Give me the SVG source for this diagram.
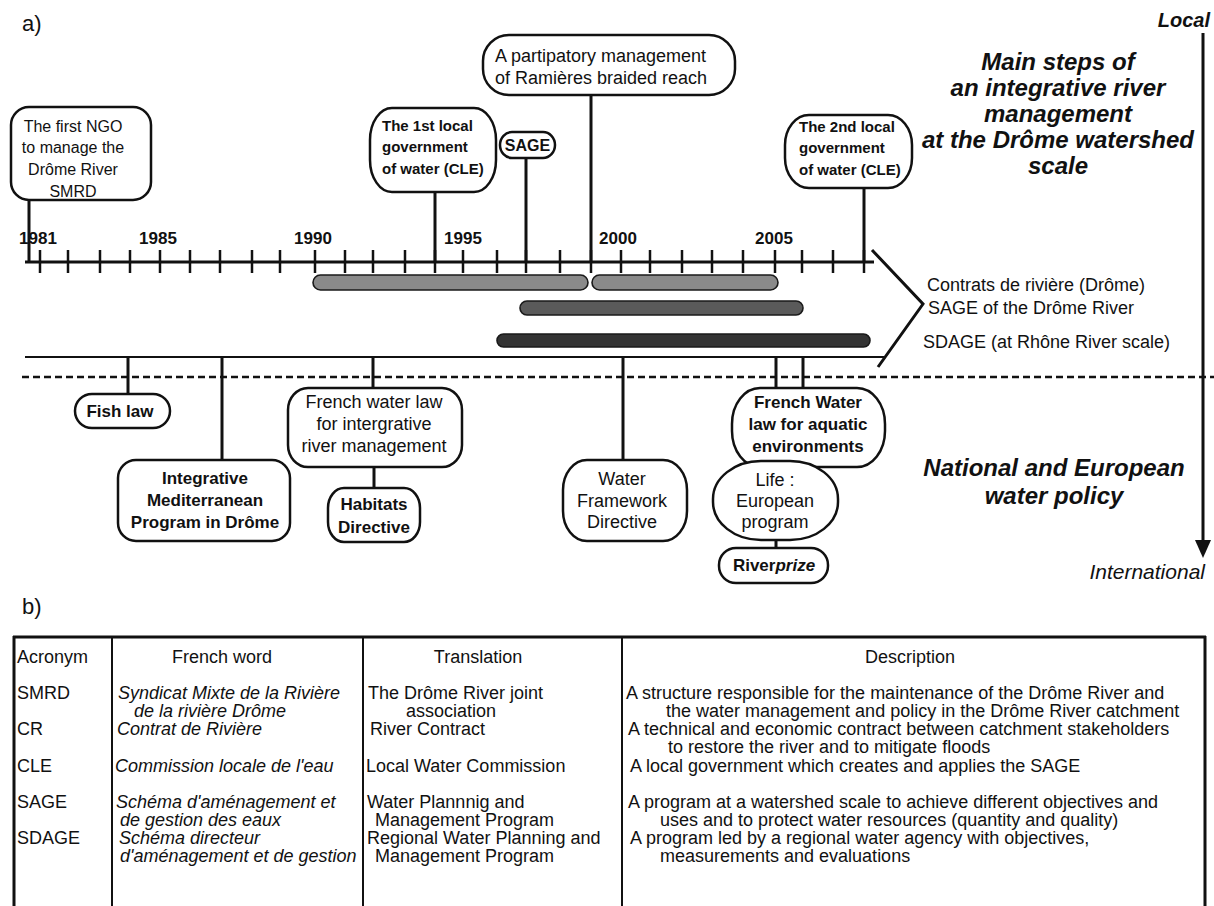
<svg xmlns="http://www.w3.org/2000/svg" width="1214" height="906" viewBox="0 0 1214 906">
<style>
text{font-family:"Liberation Sans",Arial,sans-serif;fill:#111}
.n{font-size:18px}
.n16{font-size:16px}
.b15{font-size:15px;font-weight:bold}
.b17{font-size:17px;font-weight:bold}
.yr{font-size:17px;font-weight:bold;text-anchor:middle}
.c{text-anchor:middle}
.bi{font-size:24px;font-weight:bold;font-style:italic;text-anchor:middle}
.tb{font-size:18px}
.it{font-style:italic}
.box{fill:#fff;stroke:#111;stroke-width:2.5}
.ln{stroke:#111;stroke-width:3;fill:none}
.tk{stroke:#111;stroke-width:2.5}
.bar{stroke:#1a1a1a;stroke-width:1.6}
.tl{stroke:#111;stroke-width:2}
</style>
<rect width="1214" height="906" fill="#fff"/>
<text x="22" y="31" style="font-size:22px">a)</text>
<text x="22" y="614" style="font-size:22px">b)</text>

<g id="connectors">
<line class="ln" x1="25" y1="262" x2="874" y2="262"/>
<g class="tk">
<line x1="40" y1="250" x2="40" y2="273"/><line x1="68" y1="250" x2="68" y2="273"/><line x1="100" y1="250" x2="100" y2="273"/><line x1="130" y1="250" x2="130" y2="273"/><line x1="160" y1="250" x2="160" y2="273"/><line x1="190" y1="250" x2="190" y2="273"/><line x1="220" y1="250" x2="220" y2="273"/><line x1="252" y1="250" x2="252" y2="273"/><line x1="280" y1="250" x2="280" y2="273"/><line x1="315" y1="250" x2="315" y2="273"/><line x1="345" y1="250" x2="345" y2="273"/><line x1="373" y1="250" x2="373" y2="273"/><line x1="405" y1="250" x2="405" y2="273"/><line x1="435" y1="250" x2="435" y2="273"/><line x1="463" y1="250" x2="463" y2="273"/><line x1="497" y1="250" x2="497" y2="273"/><line x1="526" y1="250" x2="526" y2="273"/><line x1="560" y1="250" x2="560" y2="273"/><line x1="591" y1="250" x2="591" y2="273"/><line x1="621" y1="250" x2="621" y2="273"/><line x1="650" y1="250" x2="650" y2="273"/><line x1="682" y1="250" x2="682" y2="273"/><line x1="712" y1="250" x2="712" y2="273"/><line x1="743" y1="250" x2="743" y2="273"/><line x1="775" y1="250" x2="775" y2="273"/><line x1="802" y1="250" x2="802" y2="273"/><line x1="833" y1="250" x2="833" y2="273"/><line x1="864" y1="250" x2="864" y2="273"/>
</g>
<polyline class="ln" stroke-width="2.5" points="872,250 923,304 878,367"/>
<line class="tl" x1="25" y1="357" x2="885" y2="357"/>
<line stroke="#111" stroke-width="2.5" stroke-dasharray="7,4" x1="22" y1="377" x2="1214" y2="377"/>
<line class="ln" x1="1203" y1="33" x2="1203" y2="545"/>
<polygon points="1195,540 1211,540 1203,558" fill="#111"/>
<line class="ln" x1="29" y1="200" x2="29" y2="262"/>
<line class="ln" x1="435" y1="192" x2="435" y2="262"/>
<line class="ln" x1="526" y1="158" x2="526" y2="262"/>
<line class="ln" x1="591" y1="95" x2="591" y2="262"/>
<line class="ln" x1="864" y1="188" x2="864" y2="262"/>
<line class="ln" x1="128" y1="357" x2="128" y2="394"/>
<line class="ln" x1="222" y1="357" x2="222" y2="460"/>
<line class="ln" x1="373" y1="357" x2="373" y2="388"/>
<line class="ln" x1="374" y1="467" x2="374" y2="488"/>
<line class="ln" x1="623" y1="357" x2="623" y2="460"/>
<line class="ln" x1="776" y1="357" x2="776" y2="388"/>
<line class="ln" x1="803" y1="357" x2="803" y2="388"/>
<line class="ln" x1="776" y1="538" x2="776" y2="549"/>
</g>

<g id="years">
<text class="yr" x="38" y="244">1981</text>
<text class="yr" x="158" y="244">1985</text>
<text class="yr" x="313" y="244">1990</text>
<text class="yr" x="463" y="244">1995</text>
<text class="yr" x="618" y="244">2000</text>
<text class="yr" x="774" y="244">2005</text>
</g>

<g id="bars">
<rect class="bar" x="313" y="275" width="275" height="15" rx="7.5" fill="#8a8a8a"/>
<rect class="bar" x="592" y="275" width="186" height="15" rx="7.5" fill="#8a8a8a"/>
<rect class="bar" x="520" y="301" width="283" height="14" rx="7" fill="#5a5a5a"/>
<rect class="bar" x="497" y="334" width="373" height="13" rx="6.5" fill="#333"/>
</g>

<g id="legend">
<text class="n" x="927" y="291">Contrats de rivière (Drôme)</text>
<text class="n" x="928" y="314">SAGE of the Drôme River</text>
<text class="n" x="923" y="348">SDAGE (at Rhône River scale)</text>
</g>

<g id="titles">
<text x="1210" y="27" style="font-size:20px;font-style:italic;font-weight:bold;text-anchor:end">Local</text>
<text class="bi" x="1058" y="70">Main steps of</text>
<text class="bi" x="1058" y="96">an integrative river</text>
<text class="bi" x="1058" y="122">management</text>
<text class="bi" x="1058" y="148">at the Drôme watershed</text>
<text class="bi" x="1058" y="174">scale</text>
<text class="bi" x="1054" y="476">National and European</text>
<text class="bi" x="1054" y="504">water policy</text>
<text x="1205" y="579" style="font-size:21px;font-style:italic;text-anchor:end">International</text>
</g>

<g id="n-smrd">
<rect class="box" x="11" y="107" width="140" height="93" rx="18" ry="18"/>
<text class="n16 c" x="73" y="132">The first NGO</text>
<text class="n16 c" x="73" y="153">to manage the</text>
<text class="n16 c" x="73" y="175">Drôme River</text>
<text class="n16 c" x="73" y="197">SMRD</text>
</g>
<g id="n-cle1">
<rect class="box" x="370" y="108" width="126" height="84" rx="22" ry="32"/>
<text class="b15" x="382" y="131">The 1st local</text>
<text class="b15" x="382" y="152">government</text>
<text class="b15" x="382" y="174">of water (CLE)</text>
</g>
<g id="n-sage">
<rect class="box" x="500" y="132" width="55" height="26" rx="12" ry="13"/>
<text class="c" x="527.5" y="151" style="font-size:16px;font-weight:bold">SAGE</text>
</g>
<g id="n-ramieres">
<rect class="box" x="483" y="35" width="252" height="60" rx="26" ry="26"/>
<text class="n" x="495" y="62">A partipatory management</text>
<text class="n" x="495" y="84">of Ramières braided reach</text>
</g>
<g id="n-cle2">
<rect class="box" x="785" y="115" width="127" height="73" rx="24" ry="30"/>
<text class="b15" x="799" y="132">The 2nd local</text>
<text class="b15" x="799" y="153">government</text>
<text class="b15" x="799" y="175">of water (CLE)</text>
</g>

<g id="n-fish">
<rect class="box" x="75" y="394" width="95" height="34" rx="17"/>
<text class="b17 c" x="120" y="417">Fish law</text>
</g>
<g id="n-integrative">
<rect class="box" x="118" y="460" width="172" height="81" rx="18" ry="18"/>
<text class="b17 c" x="205" y="484">Integrative</text>
<text class="b17 c" x="205" y="506">Mediterranean</text>
<text class="b17 c" x="205" y="528">Program in Drôme</text>
</g>
<g id="n-frenchlaw">
<rect class="box" x="288" y="388" width="174" height="79" rx="20" ry="22"/>
<text class="n c" x="374" y="408">French water law</text>
<text class="n c" x="374" y="430">for intergrative</text>
<text class="n c" x="374" y="452">river management</text>
</g>
<g id="n-habitats">
<rect class="box" x="328" y="488" width="92" height="54" rx="16" ry="20"/>
<text class="b17 c" x="374" y="510">Habitats</text>
<text class="b17 c" x="374" y="533">Directive</text>
</g>
<g id="n-wfd">
<rect class="box" x="563" y="460" width="124" height="81" rx="24" ry="30"/>
<text class="n c" x="622" y="485">Water</text>
<text class="n c" x="622" y="507">Framework</text>
<text class="n c" x="622" y="528">Directive</text>
</g>
<g id="n-aquatic">
<rect class="box" x="732" y="388" width="153" height="79" rx="28" ry="36"/>
<text class="b17 c" x="808" y="408">French Water</text>
<text class="b17 c" x="808" y="430">law for aquatic</text>
<text class="b17 c" x="808" y="452">environments</text>
</g>
<g id="n-life">
<rect class="box" x="713" y="461" width="125" height="79" rx="48" ry="38"/>
<text class="n c" x="775" y="486">Life :</text>
<text class="n c" x="775" y="507">European</text>
<text class="n c" x="775" y="528">program</text>
</g>
<g id="n-riverprize">
<rect class="box" x="719" y="548" width="109" height="35" rx="17"/>
<text class="b17 c" x="774" y="571">River<tspan font-style="italic">prize</tspan></text>
</g>

<g id="table">
<line stroke="#111" stroke-width="3" x1="13" y1="637" x2="1206" y2="637"/>
<line stroke="#111" stroke-width="3" x1="14" y1="636" x2="14" y2="906"/>
<line stroke="#111" stroke-width="3" x1="1205" y1="636" x2="1205" y2="906"/>
<line stroke="#111" stroke-width="2" x1="112" y1="637" x2="112" y2="906"/>
<line stroke="#111" stroke-width="2" x1="363" y1="637" x2="363" y2="906"/>
<line stroke="#111" stroke-width="2" x1="622" y1="637" x2="622" y2="906"/>
<g class="tb">
<text class="tb" x="17" y="663">Acronym</text>
<text class="tb c" x="222" y="663">French word</text>
<text class="tb c" x="478" y="663">Translation</text>
<text class="tb c" x="910" y="663">Description</text>

<text class="tb" x="17" y="699">SMRD</text>
<text class="tb it" x="118" y="699">Syndicat Mixte de la Rivière</text>
<text class="tb it" x="134" y="717">de la rivière Drôme</text>
<text class="tb" x="368" y="699">The Drôme River joint</text>
<text class="tb" x="406" y="717">association</text>
<text class="tb" x="626" y="699">A structure responsible for the maintenance of the Drôme River and</text>
<text class="tb" x="666" y="717">the water management and policy in the Drôme River catchment</text>

<text class="tb" x="17" y="735">CR</text>
<text class="tb it" x="117" y="735">Contrat de Rivière</text>
<text class="tb" x="370" y="735">River Contract</text>
<text class="tb" x="628" y="735">A technical and economic contract between catchment stakeholders</text>
<text class="tb" x="668" y="753">to restore the river and to mitigate floods</text>

<text class="tb" x="17" y="772">CLE</text>
<text class="tb it" x="115" y="772">Commission locale de l'eau</text>
<text class="tb" x="366" y="772">Local Water Commission</text>
<text class="tb" x="630" y="772">A local government which creates and applies the SAGE</text>

<text class="tb" x="17" y="808">SAGE</text>
<text class="tb it" x="116" y="808">Schéma d'aménagement et</text>
<text class="tb it" x="120" y="826">de gestion des eaux</text>
<text class="tb" x="367" y="808">Water Plannnig and</text>
<text class="tb" x="375" y="826">Management Program</text>
<text class="tb" x="628" y="808">A program at a watershed scale to achieve different objectives and</text>
<text class="tb" x="660" y="826">uses and to protect water resources (quantity and quality)</text>

<text class="tb" x="17" y="844">SDAGE</text>
<text class="tb it" x="119" y="844">Schéma directeur</text>
<text class="tb it" x="120" y="862">d'aménagement et de gestion</text>
<text class="tb" x="367" y="844">Regional Water Planning and</text>
<text class="tb" x="375" y="862">Management Program</text>
<text class="tb" x="630" y="844">A program led by a regional water agency with objectives,</text>
<text class="tb" x="660" y="862">measurements and evaluations</text>
</g>
</g>
</svg>
